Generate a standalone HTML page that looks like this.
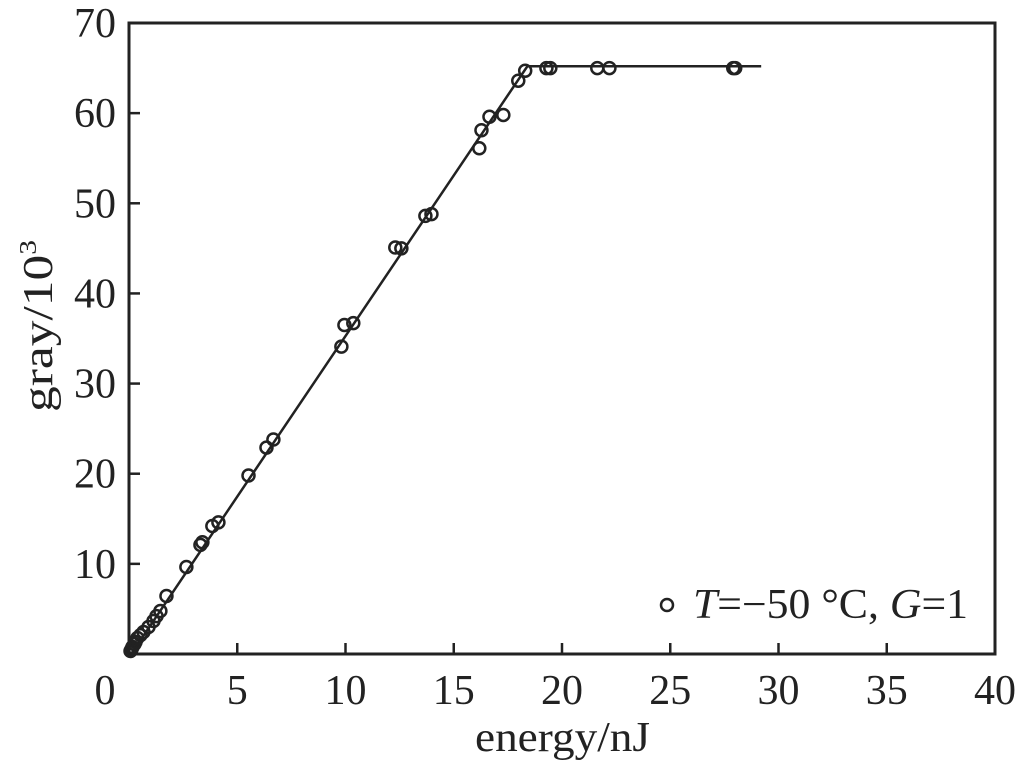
<!DOCTYPE html>
<html><head><meta charset="utf-8"><style>
html,body{margin:0;padding:0;background:#fff;}
svg text{font-family:"Liberation Serif",serif;fill:#222;}
</style></head><body>
<svg id="chart" width="1023" height="763" viewBox="0 0 1023 763" xmlns="http://www.w3.org/2000/svg">
<rect x="129" y="23" width="866" height="631" fill="none" stroke="#222" stroke-width="3"/>
<g id="ticks"></g>
<g id="fit"></g>
<g id="points"></g>
<text x="475" y="751" font-size="42" textLength="175" lengthAdjust="spacingAndGlyphs">energy/nJ</text>
<text transform="translate(52,412) rotate(-90)" font-size="42" textLength="172" lengthAdjust="spacingAndGlyphs">gray/10<tspan font-size="24" dy="-16">3</tspan></text>
<g>
<circle cx="667" cy="605" r="6" fill="none" stroke="#222" stroke-width="2.5"/>
<text x="693" y="618" font-size="42" textLength="275" lengthAdjust="spacingAndGlyphs"><tspan font-style="italic">T</tspan>=−50 °C, <tspan font-style="italic">G</tspan>=1</text>
</g>
</svg>
<script>
const xTicks = [0,5,10,15,20,25,30,35,40];
const yTicks = [10,20,30,40,50,60,70];
const energy = [0.07,0.12,0.16,0.25,0.3,0.39,0.53,0.67,0.9,1.13,1.27,1.45,1.73,2.65,3.3,3.39,3.85,4.13,5.52,6.35,6.67,9.81,9.95,10.36,12.3,12.58,13.69,13.97,16.18,16.28,16.65,17.29,17.98,18.3,19.28,19.46,21.63,22.19,27.91,28.0];
const gray = [0.33,0.55,0.78,1.1,1.33,1.77,2.1,2.44,3.0,3.66,4.2,4.77,6.43,9.65,12.1,12.4,14.2,14.6,19.8,22.9,23.8,34.1,36.5,36.7,45.1,45.0,48.6,48.8,56.1,58.1,59.6,59.8,63.6,64.7,65.0,65.0,65.0,65.0,65.0,65.0];
const fitX = [0.1,18.4,29.2];
const fitY = [0,65.2,65.2];

const NS="http://www.w3.org/2000/svg";
const X0=129,X1=995,Y0=654,Y1=23;
const sx=v=>X0+(X1-X0)*v/40;
const sy=v=>Y0-(Y0-Y1)*v/70;
function mk(tag,attrs,parent){const e=document.createElementNS(NS,tag);for(const k in attrs)e.setAttribute(k,attrs[k]);parent.appendChild(e);return e;}
const ticks=document.getElementById('ticks');
xTicks.forEach(t=>{
  if(t>0&&t<40){const l=mk('line',{x1:sx(t),x2:sx(t),y1:Y0,y2:Y0-11,stroke:'#222','stroke-width':2.5},ticks);
  
  }
  const tx=mk('text',{x:t===0?105:sx(t),y:704,'font-size':42,'text-anchor':'middle'},ticks);
  tx.textContent=t;
  
  
});
yTicks.forEach(t=>{
  if(t<70){const l=mk('line',{x1:X0,x2:X0+11,y1:sy(t),y2:sy(t),stroke:'#222','stroke-width':2.5},ticks);
  
  }
  const tx=mk('text',{x:116,y:sy(t)+14,'font-size':42,'text-anchor':'end'},ticks);
  tx.textContent=t;
  
  
});
const fit=document.getElementById('fit');
const pl=mk('polyline',{points:fitX.map((x,i)=>sx(x)+','+sy(fitY[i])).join(' '),fill:'none',stroke:'#222','stroke-width':2.5},fit);


const pts=document.getElementById('points');
energy.forEach((x,i)=>{
  const c=mk('circle',{cx:sx(x),cy:sy(gray[i]),r:6,fill:'none',stroke:'#222','stroke-width':2.5},pts);
  
  
});
</script>
</body></html>
